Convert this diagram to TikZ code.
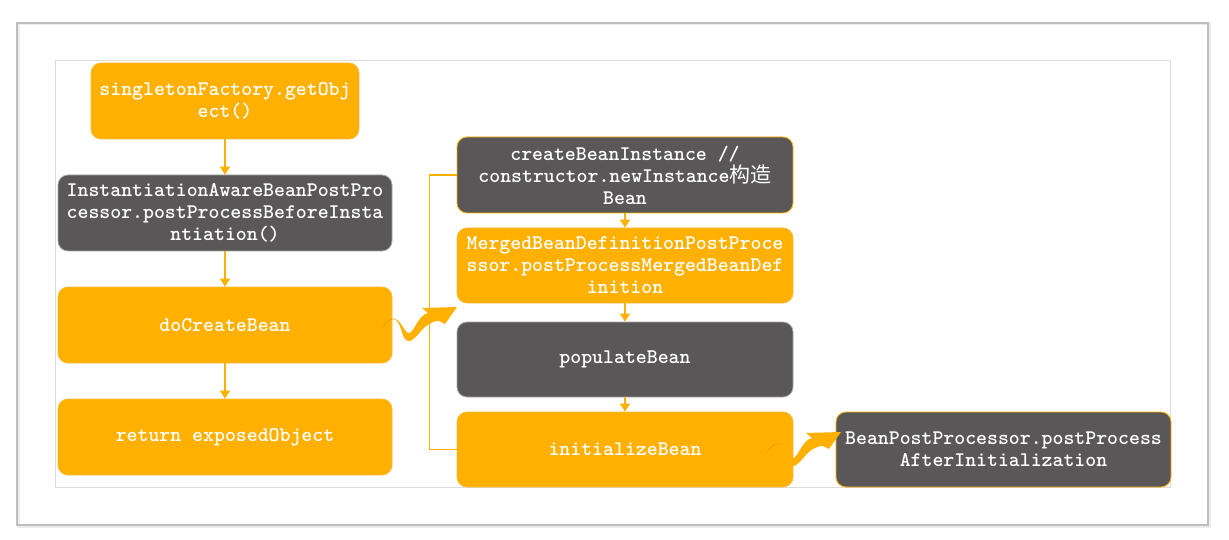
\documentclass[tikz,border=0pt]{standalone}
\usepackage{fontspec}
\newfontfamily\cjk{Noto Sans CJK SC}
\usetikzlibrary{arrows.meta}
\definecolor{orng}{RGB}{255,176,0}
\definecolor{orngline}{RGB}{245,190,60}
\definecolor{dgray}{RGB}{89,87,87}
\definecolor{frame}{RGB}{190,190,190}
\definecolor{innerframe}{RGB}{220,220,220}
\tikzset{
  box/.style={rounded corners=10pt, inner sep=0pt, align=center, text=white,
    font=\ttfamily\bfseries\fontsize{20.8}{22}\selectfont, line width=0.8pt},
  obox/.style={box, fill=orng, draw=orngline},
  gbox/.style={box, fill=dgray, draw=gray!70},
  gobox/.style={box, fill=dgray, draw=orng},
  arr/.style={draw=orng, line width=1.4pt, -{Triangle[width=10pt,length=8pt]}},
  link/.style={draw=orng, line width=1.6pt},
  wave/.pic={
    \draw[orng!90!black, line width=0.6pt] (0,0) .. controls (4,-6) and (8,-9) .. (12,-8);
    \fill[orng] (12,-8) .. controls (20,-2) and (18,14) .. (26,14)
      .. controls (34,14) and (40,-6) .. (56,-6) -- (62,-3) -- (74,-20) -- (39,-19) -- (45,-14)
      .. controls (35,-12) and (31,6) .. (26,6) .. controls (21,6) and (19,-6) .. (12,-8) -- cycle;
  }
}
\begin{document}
\begin{tikzpicture}[x=1pt,y=-1pt]
\useasboundingbox (0,0) rectangle (1229,540);
\fill[white] (0,0) rectangle (1229,540);
% frames
\draw[gray!15, line width=3pt] (18,24) rectangle (1209,526);
\draw[frame, line width=1.5pt] (17,23) rectangle (1208,525);
\draw[innerframe, line width=1pt] (55,61) rectangle (1170,487);
% left column
\node[obox, minimum width=268pt, minimum height=76pt] (b1) at (225,101) {singletonFactory.getObj\\ect()};
\node[gbox, minimum width=334pt, minimum height=76pt] (b2) at (225,213) {InstantiationAwareBeanPostPro\\cessor.postProcessBeforeInsta\\ntiation()};
\node[obox, minimum width=334pt, minimum height=76pt] (b3) at (225,325) {doCreateBean};
\node[obox, minimum width=334pt, minimum height=76pt] (b4) at (225,437) {return exposedObject};
% right column
\node[gobox, minimum width=336pt, minimum height=76pt] (b5) at (625,175) {createBeanInstance //\\constructor.newInstance{\cjk\mdseries\fontsize{21}{22}\selectfont 构造}\\Bean};
\node[obox, minimum width=336pt, minimum height=75pt] (b6) at (625,265.5) {MergedBeanDefinitionPostProce\\ssor.postProcessMergedBeanDef\\inition};
\node[gbox, minimum width=336pt, minimum height=75pt] (b7) at (625,359.5) {populateBean};
\node[obox, minimum width=336pt, minimum height=75pt] (b8) at (625,449.5) {initializeBean};
\node[gobox, minimum width=335pt, minimum height=75pt] (b9) at (1003.5,449.5) {BeanPostProcessor.postProcess\\AfterInitialization};
% arrows
\draw[arr] (b1) -- (b2);
\draw[arr] (b2) -- (b3);
\draw[arr] (b3) -- (b4);
\draw[arr] (b5) -- (b6);
\draw[arr] (b6) -- (b7);
\draw[arr] (b7) -- (b8);
% bracket
\draw[link] (b5.west) -- ++(-27,0) |- (b8.west);
% wavy arrows
\pic at (383,327) {wave};
\pic at (767,452) {wave};
\end{tikzpicture}
\end{document}
